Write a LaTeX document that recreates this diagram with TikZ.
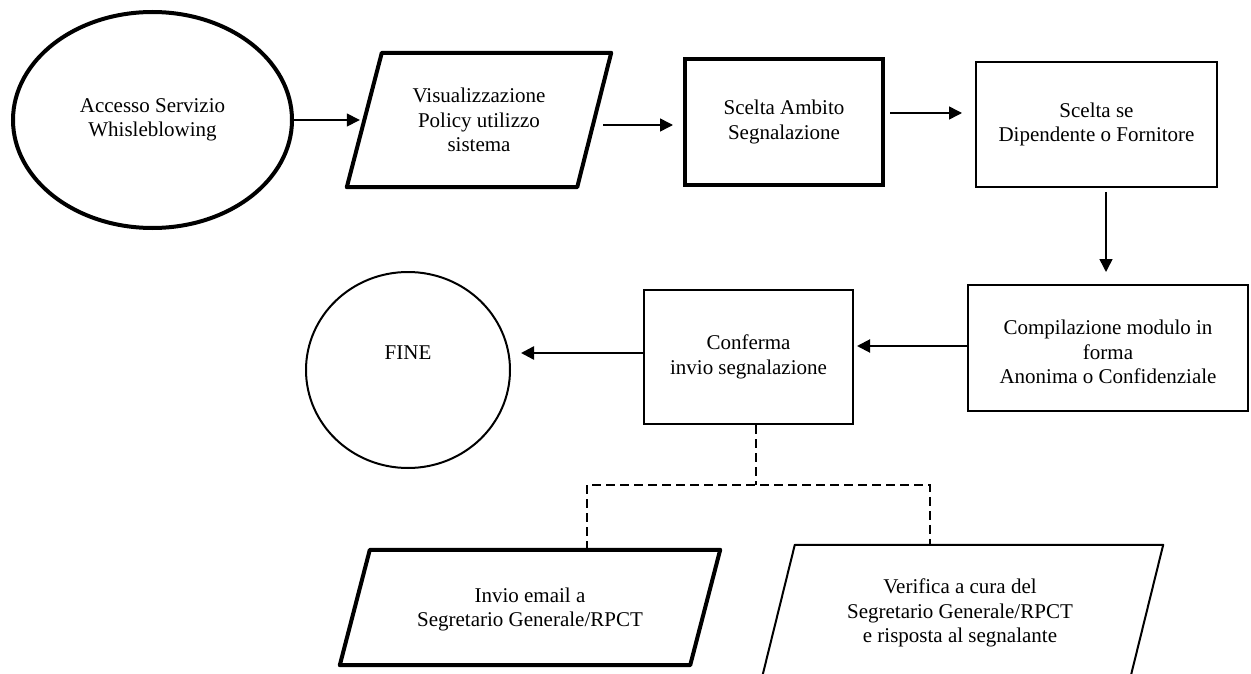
\documentclass[tikz,border=0pt]{standalone}
\usepackage{fontspec}
\setmainfont{Liberation Serif}
\usetikzlibrary{shapes.geometric,arrows.meta,calc}
\begin{document}
\begin{tikzpicture}[x=1pt,y=-1pt,
  txt/.style={align=center,font=\fontsize{21}{24.5}\selectfont,inner sep=0pt},
  thickline/.style={line width=4pt},
  thinline/.style={line width=2pt},
  arr/.style={-{Triangle[length=13pt,width=13pt]},line width=1.5pt},
  dconn/.style={line width=1.5pt,dash pattern=on 9pt off 5pt}
]
\useasboundingbox (0,0) rectangle (1251,674);

% top row
\node[ellipse,draw,thickline,txt,minimum width=279pt,minimum height=216pt] (e1) at (152.5,120) {Accesso Servizio\\Whisleblowing};

\node[txt,minimum width=264pt,minimum height=134pt] (p1) at (479,120) {Visualizzazione\\Policy utilizzo\\sistema};
\draw[thickline,line join=round] ([xshift=35pt]p1.north west) -- (p1.north east) -- ([xshift=-34pt]p1.south east) -- (p1.south west) -- cycle;

\node[draw,thickline,txt,minimum width=198pt,minimum height=126pt] (b2) at (784,122) {Scelta Ambito\\Segnalazione};

\node[draw,thinline,txt,minimum width=241pt,minimum height=125pt] (b3) at (1096.5,124.5) {Scelta se\\Dipendente o Fornitore};

% middle row
\node[draw,thinline,minimum width=280pt,minimum height=126pt] (b4) at (1108,348) {};
\node[txt] (t4) at (1108,352) {Compilazione modulo in\\forma\\Anonima o Confidenziale};

\node[draw,thinline,txt,minimum width=209pt,minimum height=134pt] (b5) at (748.5,357) {Conferma\\invio segnalazione};

\node[ellipse,draw,thinline,minimum width=204pt,minimum height=196pt] (fine) at (408,370) {};
\node[txt] (tf) at (408,353) {FINE};

% bottom row
\node[txt,minimum width=380pt,minimum height=115pt] (q1) at (530,607.5) {};
\node[txt] (tq1) at (530,609.5) {Invio email a\\Segretario Generale/RPCT};
\draw[thickline,line join=round] ([xshift=30pt]q1.north west) -- (q1.north east) -- ([xshift=-30pt]q1.south east) -- (q1.south west) -- cycle;

\node[minimum width=406.4pt,minimum height=155pt,inner sep=0pt] (q2) at (959.8,622.5) {};
\node[txt] (tq2) at (960,613) {Verifica a cura del\\Segretario Generale/RPCT\\e risposta al segnalante};
\draw[thinline,line join=round] ([xshift=38.4pt]q2.north west) -- (q2.north east) -- ([xshift=-38.4pt]q2.south east) -- (q2.south west) -- cycle;

% arrows
\draw[arr] (e1.east) -- ([xshift=13pt]p1.west);
\draw[arr] ($(p1.east)+(-8,5)$) -- ($(b2.west)+(-10,3)$);
\draw[arr] ($(b2.east)+(5,-9)$) -- ($(b3.west)+(-13,-11.5)$);
\draw[arr] ($(b3.south)+(9.5,4)$) -- ($(b4.north)+(-2,-12)$);
\draw[arr,line width=2pt] ($(b4.west)+(0,-2)$) -- ($(b5.east)+(3,-11)$);
\draw[arr,line width=2.5pt] ($(b5.west)+(0,-4)$) -- ($(fine.east)+(10,-17)$);

% dashed connectors
\coordinate (j) at ($(b5.south)+(7.5,60)$);
\draw[dconn] ($(b5.south)+(7.5,0)$) -- (j);
\draw[dconn] ($(q1.north)+(57,0)$) -- ($(q1.north)+(57,-65)$) -- ($(q2.north)+(-29.8,-60)$) -- ($(q2.north)+(-29.8,0)$);
\end{tikzpicture}
\end{document}
